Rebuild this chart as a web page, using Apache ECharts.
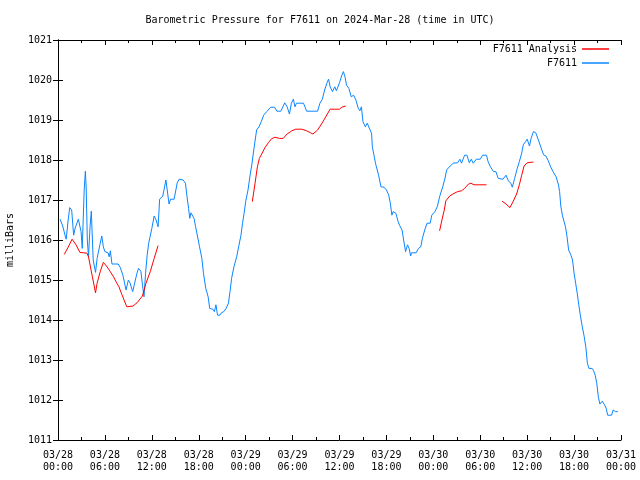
<!DOCTYPE html>
<html>
<head>
<meta charset="utf-8">
<script src="https://cdn.jsdelivr.net/npm/echarts@6/dist/echarts.min.js"></script>
<style>html,body{margin:0;padding:0;background:#fff}#c{width:640px;height:480px}</style>
</head>
<body>
<div id="c"></div>
<script>
// time in hours since 2024-03-28 00:00 UTC, pressure in mbar
const tickLabels = ['03/28\n00:00','03/28\n06:00','03/28\n12:00','03/28\n18:00','03/29\n00:00','03/29\n06:00','03/29\n12:00','03/29\n18:00','03/30\n00:00','03/30\n06:00','03/30\n12:00','03/30\n18:00','03/31\n00:00'];

const f7611 = [
[0.26,1016.52],[0.6,1016.35],[0.9,1016.12],[1.05,1016.02],[1.3,1016.5],[1.5,1016.81],[1.75,1016.75],[2.0,1016.12],[2.2,1016.3],[2.6,1016.52],[2.85,1016.52],[2.95,1016.21],[3.1,1015.79],[3.35,1017.25],[3.5,1017.72],[3.6,1017.33],[3.75,1016.0],[3.9,1015.58],[4.1,1016.33],[4.26,1016.72],[4.5,1015.5],[4.8,1015.19],[5.0,1015.54],[5.4,1015.92],[5.6,1016.1],[5.8,1015.83],[6.0,1015.71],[6.4,1015.68],[6.55,1015.58],[6.7,1015.73],[6.9,1015.4],[7.7,1015.4],[7.95,1015.32],[8.3,1015.12],[8.7,1014.75],[9.0,1015.0],[9.2,1014.93],[9.55,1014.71],[9.7,1014.71],[10.1,1015.17],[10.3,1015.29],[10.6,1015.22],[10.8,1014.88],[11.0,1014.58],[11.2,1015.17],[11.4,1015.62],[11.6,1015.92],[11.75,1015.88],[12.0,1016.29],[12.3,1016.6],[12.55,1016.5],[12.8,1016.33],[13.0,1017.02],[13.4,1017.1],[13.8,1017.5],[14.0,1017.2],[14.2,1016.9],[14.4,1017.02],[14.85,1017.02],[15.25,1017.43],[15.5,1017.52],[16.0,1017.5],[16.3,1017.42],[16.5,1017.08],[16.7,1016.79],[16.85,1016.54],[17.0,1016.68],[17.2,1016.71],[17.4,1016.54],[17.6,1016.33],[17.8,1016.29],[18.1,1015.83],[18.4,1015.54],[18.6,1015.17],[18.9,1014.79],[19.2,1014.58],[19.4,1014.29],[19.8,1014.27],[20.0,1014.21],[20.2,1014.38],[20.4,1014.12],[20.7,1014.12],[20.9,1014.18],[21.2,1014.21],[21.5,1014.29],[21.8,1014.42],[22.0,1014.71],[22.2,1015.04],[22.5,1015.33],[22.85,1015.58],[23.1,1015.83],[23.4,1016.12],[23.6,1016.42],[23.8,1016.67],[24.0,1016.96],[24.3,1017.25],[24.55,1017.6],[24.8,1017.9],[25.0,1018.2],[25.4,1018.75],[25.7,1018.83],[26.0,1018.96],[26.3,1019.12],[26.7,1019.21],[27.2,1019.32],[27.7,1019.32],[28.0,1019.22],[28.5,1019.22],[29.0,1019.43],[29.3,1019.33],[29.6,1019.15],[29.85,1019.42],[30.1,1019.52],[30.3,1019.33],[30.5,1019.42],[31.4,1019.42],[31.8,1019.22],[33.2,1019.22],[33.5,1019.42],[33.8,1019.52],[34.1,1019.75],[34.4,1019.93],[34.6,1020.02],[34.8,1019.83],[35.1,1019.71],[35.4,1019.83],[35.6,1019.73],[36.0,1019.93],[36.3,1020.12],[36.5,1020.21],[36.7,1020.08],[36.9,1019.87],[37.2,1019.79],[37.5,1019.58],[37.8,1019.62],[38.1,1019.5],[38.4,1019.29],[38.6,1019.23],[38.8,1019.33],[39.0,1018.96],[39.3,1018.83],[39.55,1018.92],[39.8,1018.8],[40.1,1018.67],[40.2,1018.33],[40.45,1018.08],[40.6,1017.92],[40.8,1017.9],[41.0,1017.62],[41.3,1017.33],[41.7,1017.32],[42.0,1017.25],[42.3,1017.12],[42.5,1016.92],[42.7,1016.62],[42.85,1016.71],[43.2,1016.67],[43.5,1016.46],[43.7,1016.36],[44.0,1016.25],[44.2,1016.0],[44.45,1015.71],[44.7,1015.88],[44.9,1015.79],[45.1,1015.6],[45.2,1015.68],[45.8,1015.68],[46.1,1015.79],[46.4,1015.83],[46.6,1016.04],[46.9,1016.25],[47.2,1016.42],[47.6,1016.42],[47.8,1016.62],[48.2,1016.71],[48.5,1016.83],[48.8,1017.08],[49.2,1017.33],[49.5,1017.55],[49.7,1017.75],[50.0,1017.82],[50.55,1017.92],[51.1,1017.93],[51.4,1018.02],[51.6,1017.92],[52.0,1018.12],[52.3,1018.12],[52.6,1017.93],[52.85,1018.02],[53.1,1017.92],[53.5,1018.02],[54.0,1018.02],[54.3,1018.12],[54.8,1018.12],[55.0,1017.96],[55.3,1017.83],[55.7,1017.71],[56.0,1017.71],[56.3,1017.54],[56.9,1017.52],[57.3,1017.62],[57.6,1017.48],[57.9,1017.42],[58.1,1017.32],[58.4,1017.54],[58.7,1017.77],[59.0,1017.96],[59.3,1018.17],[59.5,1018.38],[59.8,1018.46],[60.0,1018.52],[60.3,1018.35],[60.5,1018.54],[60.8,1018.71],[61.1,1018.68],[61.4,1018.52],[61.7,1018.35],[62.1,1018.13],[62.4,1018.1],[62.7,1017.98],[63.0,1017.83],[63.3,1017.71],[63.7,1017.58],[64.0,1017.38],[64.15,1017.21],[64.3,1016.85],[64.5,1016.62],[64.7,1016.57],[64.9,1016.33],[65.1,1016.08],[65.3,1015.75],[65.6,1015.62],[65.8,1015.5],[66.0,1015.17],[66.2,1014.92],[66.4,1014.67],[66.6,1014.38],[66.8,1014.12],[67.05,1013.83],[67.3,1013.58],[67.5,1013.33],[67.7,1012.92],[67.9,1012.79],[68.3,1012.79],[68.5,1012.73],[68.7,1012.62],[68.9,1012.42],[69.1,1012.08],[69.3,1011.9],[69.5,1011.9],[69.6,1011.97],[69.9,1011.88],[70.1,1011.79],[70.3,1011.62],[70.8,1011.62],[71.0,1011.75],[71.15,1011.79],[71.3,1011.71],[71.6,1011.71]
];

const analysisSeg1 = [
[0.8,1015.64],[1.3,1015.82],[1.8,1016.02],[2.3,1015.88],[2.8,1015.69],[3.7,1015.67],[3.9,1015.58],[4.4,1015.08],[4.8,1014.68],[5.0,1014.92],[5.4,1015.21],[5.8,1015.44],[6.2,1015.35],[6.65,1015.22],[7.1,1015.08],[7.5,1014.93],[7.8,1014.83],[8.1,1014.67],[8.45,1014.5],[8.8,1014.33],[9.6,1014.35],[10.1,1014.43],[10.8,1014.6],[11.25,1014.92],[11.8,1015.21],[12.3,1015.54],[12.8,1015.86]
];
const analysisSeg2 = [
[24.85,1016.96],[25.2,1017.42],[25.5,1017.83],[25.75,1018.04],[26.05,1018.15],[26.5,1018.32],[26.9,1018.43],[27.3,1018.53],[27.75,1018.57],[28.3,1018.54],[28.8,1018.54],[29.3,1018.65],[29.9,1018.73],[30.4,1018.77],[31.2,1018.77],[31.8,1018.73],[32.3,1018.68],[32.6,1018.65],[33.2,1018.75],[33.7,1018.9],[34.3,1019.1],[34.8,1019.27],[35.4,1019.27],[36.0,1019.27],[36.3,1019.32],[36.8,1019.35]
];
const analysisSeg3 = [
[48.8,1016.23],[49.1,1016.5],[49.4,1016.75],[49.6,1016.98],[50.1,1017.1],[50.5,1017.15],[51.1,1017.21],[51.6,1017.23],[52.0,1017.29],[52.5,1017.4],[52.8,1017.42],[53.2,1017.38],[53.6,1017.38],[54.8,1017.38]
];
const analysisSeg4 = [
[56.8,1016.97],[57.3,1016.9],[57.8,1016.81],[58.2,1016.96],[58.65,1017.15],[59.0,1017.38],[59.3,1017.62],[59.6,1017.85],[60.0,1017.93],[60.8,1017.95]
];

const FONT = 'DejaVu Sans Mono';
const RED = '#ff0000', BLUE = '#0a86ff';
const chart = echarts.init(document.getElementById('c'));

const redSeries = [analysisSeg1, analysisSeg2, analysisSeg3, analysisSeg4].map(seg => ({
  name: 'F7611 Analysis', type: 'line', data: seg, showSymbol: false, symbol: 'none',
  lineStyle: { color: RED, width: 1 }, itemStyle: { color: RED }, z: 3
}));

const tickCommon = { show: true, inside: true, length: 5, lineStyle: { color: '#000' } };
const minorCommon = { show: true, splitNumber: 2, length: 3, lineStyle: { color: '#000' } };

chart.setOption({
  animation: false,
  backgroundColor: '#fff',
  textStyle: { fontFamily: FONT },
  title: {
    text: 'Barometric Pressure for F7611 on 2024-Mar-28 (time in UTC)',
    left: 'center', top: 10,
    textStyle: { fontFamily: FONT, fontSize: 10, fontWeight: 'normal', color: '#000' }
  },
  legend: {
    data: ['F7611 Analysis', 'F7611'],
    orient: 'vertical', right: 26, top: 39, align: 'right',
    itemGap: 4, itemWidth: 27, itemHeight: 1.5, icon: 'rect',
    textStyle: { fontFamily: FONT, fontSize: 10, color: '#000' }
  },
  grid: { left: 58, right: 19, top: 40, bottom: 40, containLabel: false, outerBoundsMode: 'none' },
  xAxis: [{
    type: 'value', min: 0, max: 72, interval: 6, position: 'bottom',
    axisLine: { show: true, onZero: false, lineStyle: { color: '#000', width: 1 } },
    axisTick: tickCommon, minorTick: minorCommon, splitLine: { show: false },
    axisLabel: { formatter: v => tickLabels[Math.round(v / 6)], fontFamily: FONT, fontSize: 10, color: '#000', lineHeight: 12, margin: 9 }
  }, {
    type: 'value', min: 0, max: 72, interval: 6, position: 'top',
    axisLine: { show: true, onZero: false, lineStyle: { color: '#000', width: 1 } },
    axisTick: tickCommon, minorTick: minorCommon, splitLine: { show: false },
    axisLabel: { show: false }
  }],
  yAxis: [{
    type: 'value', min: 1011, max: 1021, interval: 1, position: 'left',
    name: 'milliBars', nameLocation: 'middle', nameGap: 43, nameRotate: 90,
    nameTextStyle: { fontFamily: FONT, fontSize: 10, color: '#000' },
    axisLine: { show: true, lineStyle: { color: '#000', width: 1 } },
    axisTick: tickCommon, splitLine: { show: false },
    axisLabel: { formatter: v => String(v), fontFamily: FONT, fontSize: 10, color: '#000', margin: 6 }
  }, {
    type: 'value', min: 1011, max: 1021, interval: 1, position: 'right',
    axisLine: { show: true, lineStyle: { color: '#000', width: 1 } },
    axisTick: tickCommon, splitLine: { show: false }, axisLabel: { show: false }
  }],
  series: redSeries.concat([{
    name: 'F7611', type: 'line', data: f7611, showSymbol: false, symbol: 'none',
    lineStyle: { color: BLUE, width: 1 }, itemStyle: { color: BLUE }, z: 2
  }])
});
</script>
</body>
</html>
